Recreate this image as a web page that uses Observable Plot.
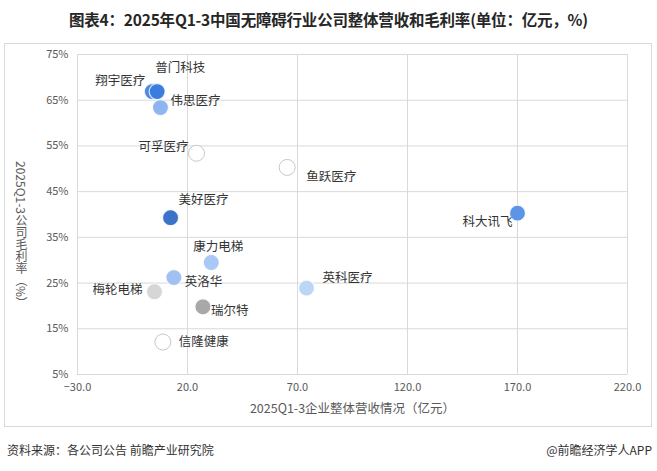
<!DOCTYPE html>
<html>
<head>
<meta charset="utf-8">
<script src="https://cdn.jsdelivr.net/npm/d3@7"></script>
<script src="https://cdn.jsdelivr.net/npm/@observablehq/plot@0.6"></script>
<style>
  html, body { margin: 0; padding: 0; background: #fff; }
  body { width: 657px; height: 471px; position: relative; overflow: hidden;
         font-family: "Noto Sans CJK SC", "Noto Sans", sans-serif; }
  #title { position: absolute; left: 0; top: 8px; width: 657px; text-align: center;
           font-size: 15.5px; font-weight: bold; color: #262626; letter-spacing: -0.2px; }
  #box { position: absolute; left: 4px; top: 43px; width: 646px; height: 382px;
         border: 1px solid #d9d9d9; }
  #box svg { position: absolute; left: 0; top: 0; }
  #ylab { position: absolute; left: 8px; top: 0; height: 382px; display: flex; align-items: center; }
  #ylab span { writing-mode: vertical-rl; font-size: 12px; color: #595959; }
  #src { position: absolute; left: 7px; top: 441px; font-size: 12px; color: #333; }
  #app { position: absolute; right: 5px; top: 441px; font-size: 12px; color: #333; }
</style>
</head>
<body>
<div id="title">图表4：2025年Q1-3中国无障碍行业公司整体营收和毛利率(单位：亿元，%)</div>
<div id="box"><div id="ylab"><span>2025Q1-3公司毛利率（%）</span></div></div>
<div id="src">资料来源：各公司公告 前瞻产业研究院</div>
<div id="app">@前瞻经济学人APP</div>
<script>
// ---- data ----
const companies = ["翔宇医疗", "普门科技", "伟思医疗", "可孚医疗", "鱼跃医疗", "美好医疗", "科大讯飞",
                   "康力电梯", "英洛华", "梅轮电梯", "瑞尔特", "信隆健康", "英科医疗"];
const revenue = [4.0, 6.2, 7.7, 24.1, 65.3, 12.3, 170.0, 30.8, 13.8, 5.0, 27.0, 8.8, 74.1];
const grossMargin = [66.9, 66.9, 63.4, 53.4, 50.3, 39.3, 40.3, 29.5, 26.2, 23.1, 19.8, 12.1, 23.9];
const xTicks = [-30, 20, 70, 120, 170, 220];
const yTicks = [5, 15, 25, 35, 45, 55, 65, 75];

// ---- styles (not data) ----
const fillOf = {
  "翔宇医疗": "#4f88e3", "普门科技": "#3b7ddd", "伟思医疗": "#8fb5f0", "可孚医疗": "#ffffff",
  "鱼跃医疗": "#ffffff", "美好医疗": "#3d72c9", "科大讯飞": "#5b95e8", "康力电梯": "#aac8f5",
  "英洛华": "#a2c1f3", "梅轮电梯": "#d6d6d6", "瑞尔特": "#a8a8a8", "信隆健康": "#ffffff", "英科医疗": "#bdd6f6"
};
const labelPlace = {
  "普门科技": [23, -24, "middle"], "翔宇医疗": [-7, -11, "end"], "伟思医疗": [10, -7, "start"],
  "可孚医疗": [-8, -6, "end"], "鱼跃医疗": [19, 10, "start"], "美好医疗": [8, -18, "start"],
  "科大讯飞": [-5, 9, "end"], "康力电梯": [7, -16, "middle"], "英洛华": [11, 4, "start"],
  "梅轮电梯": [-12, -2, "end"], "瑞尔特": [8, 4, "start"], "信隆健康": [16, 0, "start"],
  "英科医疗": [16, -10, "start"]
};

const rows = companies.map((c, i) => ({name: c, x: revenue[i], y: grossMargin[i]}));
const hollow = rows.filter(d => fillOf[d.name] === "#ffffff");
const solid = rows.filter(d => fillOf[d.name] !== "#ffffff");

const labelMarks = rows.map(d => {
  const [dx, dy, anchor] = labelPlace[d.name];
  return Plot.text([d], {x: "x", y: "y", text: "name", dx, dy, textAnchor: anchor,
    fontSize: 12.5, fill: "#333"});
});

const chart = Plot.plot({
  width: 646, height: 382,
  marginLeft: 72, marginRight: 24, marginTop: 10, marginBottom: 52,
  style: {fontFamily: "'Noto Sans CJK SC', sans-serif", fontSize: "11px", color: "#595959", background: "transparent"},
  x: {domain: [-30, 220], ticks: xTicks, tickFormat: d3.format(".1f"), tickSize: 0, tickPadding: 9,
      label: "2025Q1-3企业整体营收情况（亿元）", labelAnchor: "center", labelArrow: "none", labelOffset: 38},
  y: {domain: [5, 75], ticks: yTicks, tickFormat: d => d + "%", tickSize: 0, tickPadding: 9, label: null},
  marks: [
    Plot.gridX(xTicks, {stroke: "#d9d9d9", strokeOpacity: 1}),
    Plot.gridY(yTicks, {stroke: "#d9d9d9", strokeOpacity: 1}),
    Plot.axisX({ticks: xTicks, tickFormat: d3.format(".1f"), tickSize: 0, tickPadding: 9, fontSize: 11,
      label: "2025Q1-3企业整体营收情况（亿元）", labelAnchor: "center", labelArrow: "none", labelOffset: 38}),
    Plot.axisY({ticks: yTicks, tickFormat: d => d + "%", tickSize: 0, tickPadding: 9, fontSize: 11, label: null}),
    Plot.dot(hollow, {x: "x", y: "y", r: 8, fill: "#ffffff", stroke: "#c8c8c8", strokeWidth: 1}),
    Plot.dot(solid, {x: "x", y: "y", r: 8, fill: d => fillOf[d.name], stroke: "#ffffff", strokeOpacity: 0.8, strokeWidth: 1.2}),
    ...labelMarks
  ]
});
document.getElementById("box").appendChild(chart);
d3.select(chart).selectAll("[aria-label='x-axis label'] text").attr("font-size", 12.5);
</script>
</body>
</html>
